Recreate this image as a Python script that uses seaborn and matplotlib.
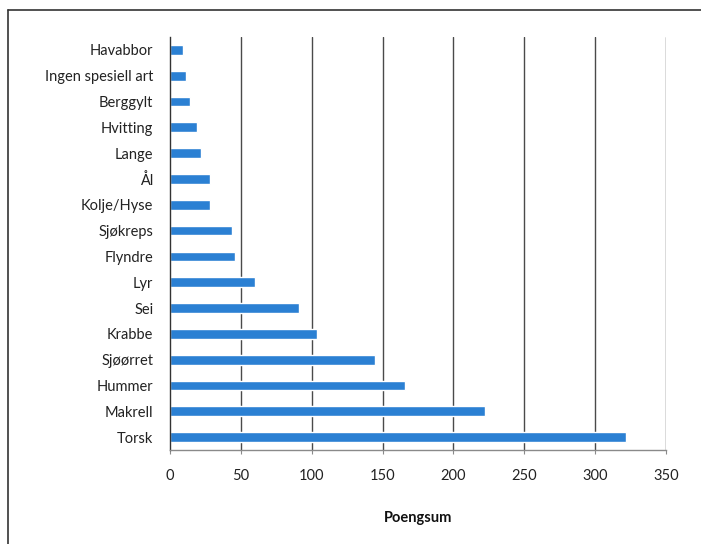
import matplotlib
matplotlib.use("Agg")
import matplotlib.pyplot as plt
import seaborn as sns
import pandas as pd
from matplotlib.lines import Line2D

species = ["Havabbor", "Ingen spesiell art", "Berggylt", "Hvitting", "Lange", "Ål",
           "Kolje/Hyse", "Sjøkreps", "Flyndre", "Lyr", "Sei", "Krabbe", "Sjøørret",
           "Hummer", "Makrell", "Torsk"]
points = [9, 11, 14, 19, 22, 28, 28, 44, 46, 60, 91, 104, 145, 166, 222, 322]
x_ticks = [0, 50, 100, 150, 200, 250, 300, 350]

sns.set_theme(style="white")
plt.rcParams["font.family"] = ["Lato", "DejaVu Sans"]

df = pd.DataFrame({"Art": species, "Poengsum": points})

fig = plt.figure(figsize=(7.01, 5.44), dpi=100)
ax = fig.add_axes([170 / 701, 1 - 450 / 544, (666 - 170) / 701, (450 - 37) / 544])

sns.barplot(data=df, x="Poengsum", y="Art", orient="h", color="#2B80D3",
            saturation=1, width=0.38, ax=ax)

ax.set_xlim(0, 350)
ax.set_xticks(x_ticks)
ax.set_xticklabels([str(t) for t in x_ticks])
for t in x_ticks[1:]:
    ax.axvline(t, color="#4a4a4a", lw=1.0, zorder=0)

for side in ["top", "right"]:
    ax.spines[side].set_visible(False)
ax.spines["left"].set_color("#333333")
ax.spines["left"].set_linewidth(1.0)
ax.spines["bottom"].set_color("#8a8a8a")
ax.spines["bottom"].set_linewidth(1.0)

ax.tick_params(axis="x", length=3, width=0.8, color="#8a8a8a", pad=11,
               labelsize=10.5, labelcolor="#222222", bottom=True)
ax.tick_params(axis="y", length=0, pad=12, labelsize=10.5, labelcolor="#222222")
ax.set_ylabel("")
ax.set_xlabel("Poengsum", fontsize=10.5, fontweight="bold", color="#111111", labelpad=20)

# outer frame of the chart area
fig.add_artist(Line2D([8 / 701, 8 / 701], [0, 1 - 10 / 544], transform=fig.transFigure,
                      color="#333333", lw=1.2))
fig.add_artist(Line2D([8 / 701, 1], [1 - 10 / 544, 1 - 10 / 544], transform=fig.transFigure,
                      color="#333333", lw=1.2))

fig.savefig("out.png", dpi=100)
